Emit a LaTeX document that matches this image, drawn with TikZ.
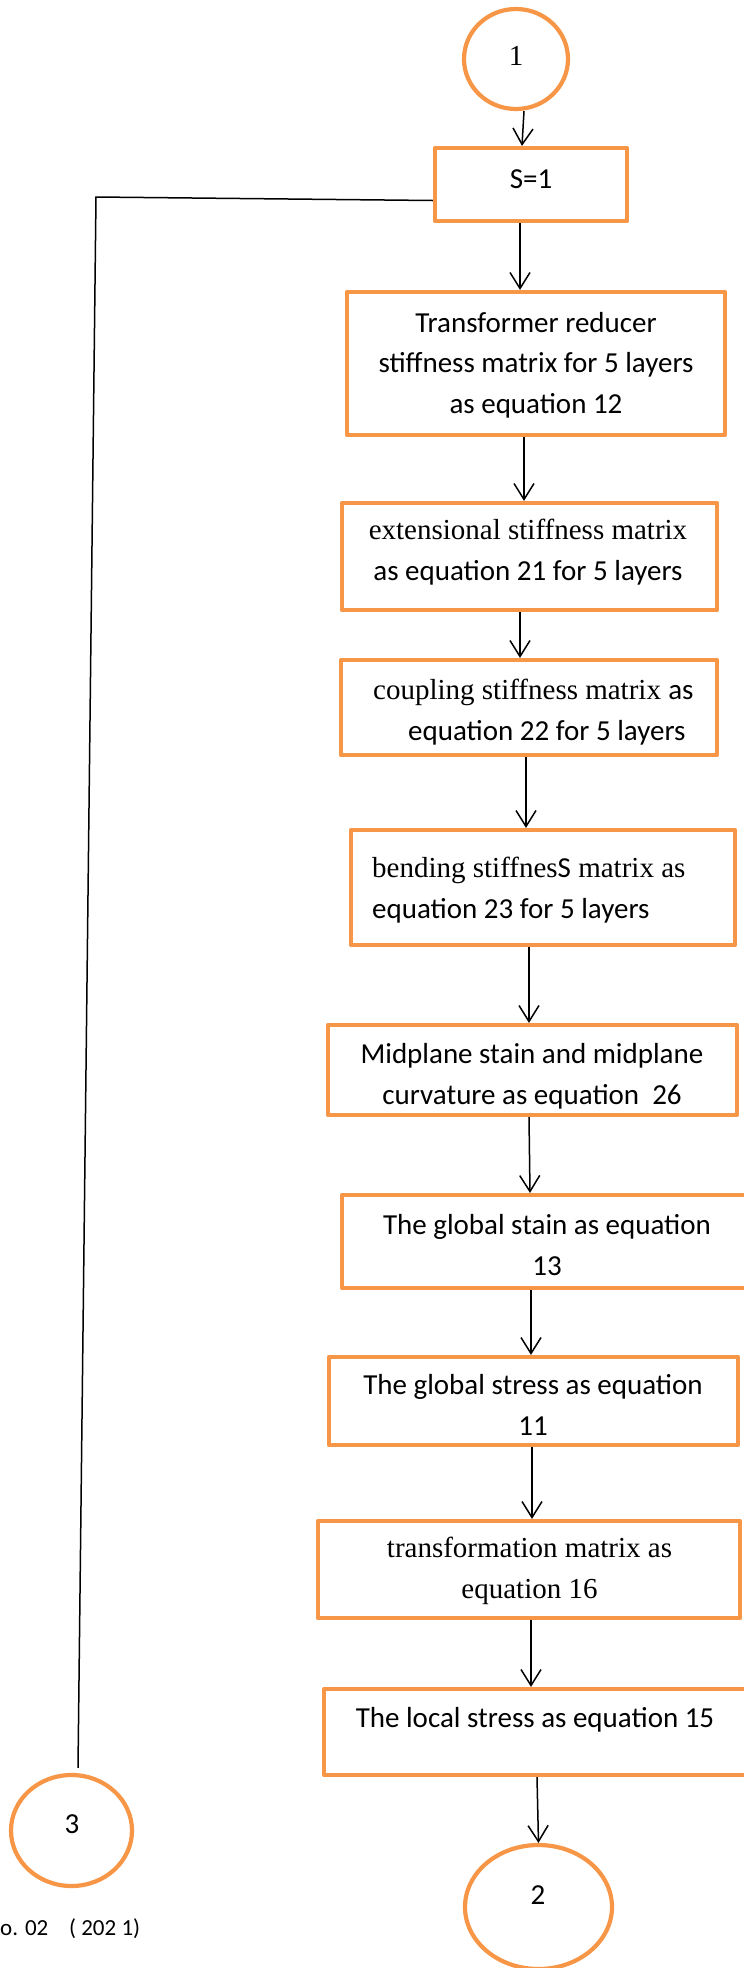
\documentclass[tikz,border=0pt]{standalone}
\usepackage{fontspec}
\setmainfont{Liberation Serif}
\newfontfamily\calfont{Carlito}
\newfontfamily\tnrfont{Liberation Serif}
\usetikzlibrary{arrows.meta,calc,shapes.geometric}
\definecolor{boxorange}{HTML}{F79646}
\begin{document}
\begin{tikzpicture}[x=1pt,y=-1pt,
  box/.style={draw=boxorange, line width=4.2pt, rectangle, inner sep=0pt, line join=round},
  circ/.style={draw=boxorange, line width=4.2pt, ellipse, inner sep=0pt},
  sans/.style={font=\fontsize{29}{40.5}\selectfont\calfont, inner sep=0pt},
  serif/.style={font=\fontsize{29}{40.5}\selectfont\tnrfont, inner sep=0pt},
  mixed/.style={font=\fontsize{29}{40.5}\selectfont, inner sep=0pt},
  arr/.style={line width=1.5pt, -{Straight Barb[length=16pt,width=20pt]}},
  link/.style={line width=1.5pt}]
\useasboundingbox (0,0) rectangle (744,1968);
\clip (0,0) rectangle (744,1968);

\node[circ, minimum width=104, minimum height=100] (c1) at (516,59) {};
\node[serif, anchor=base] (tc1) at (516,65) {1};

\node[box, minimum width=192, minimum height=73] (s1) at (531,184.5) {};
\node[sans, anchor=base] (ts1) at (531,188) {S=1};

\node[box, minimum width=378, minimum height=143] (b2) at (536,363.5) {};
\node[sans, align=center, anchor=base] (t2) at (536,413)
  {Transformer reducer\\stiffness matrix for 5 layers\\as equation 12};

\node[box, minimum width=375, minimum height=107] (b3) at (529.5,556.5) {};
\node[mixed, align=center, anchor=base] (t3) at (528,580)
  {{\tnrfont extensional stiffness matrix}\\{\calfont as equation 21 for 5 layers}};

\node[box, minimum width=376, minimum height=95] (b4) at (529,707.5) {};
\node[mixed, align=left, anchor=base west] (t4) at (373,740)
  {{\tnrfont coupling stiffness matrix }{\calfont as}\\\hspace*{35pt}{\calfont equation 22 for 5 layers}};

\node[box, minimum width=384, minimum height=115] (b5) at (543,887.5) {};
\node[mixed, align=left, anchor=base west] (t5) at (372,918)
  {{\tnrfont bending stiffnes}{\calfont S}{\tnrfont\ matrix as}\\{\calfont equation 23 for 5 layers}};

\node[box, minimum width=409, minimum height=90] (b6) at (532.5,1070) {};
\node[sans, align=center, anchor=base] (t6) at (532,1104)
  {Midplane stain and midplane\\curvature as equation\ \ 26};

\node[box, minimum width=410, minimum height=93] (b7) at (547,1241.5) {};
\node[sans, align=center, anchor=base] (t7) at (547,1275)
  {The global stain as equation\\13};

\node[box, minimum width=409, minimum height=88] (b8) at (533.5,1401) {};
\node[sans, align=center, anchor=base] (t8) at (533,1435)
  {The global stress as equation\\11};

\node[box, minimum width=422, minimum height=97] (b9) at (529,1569.5) {};
\node[serif, align=center, anchor=base] (t9) at (529.5,1598)
  {transformation matrix as\\equation 16};

\node[box, minimum width=428, minimum height=86] (b10) at (538,1732) {};
\node[sans, anchor=base] (t10) at (535,1727) {The local stress as equation 15};

\node[circ, minimum width=147, minimum height=124] (c2) at (538.5,1907) {};
\node[sans, anchor=base] (tc2) at (538,1904) {2};

\node[circ, minimum width=121, minimum height=111] (c3) at (71.5,1830.5) {};
\node[sans, anchor=base] (tc3) at (72,1833) {3};

\node[font=\fontsize{23}{28}\selectfont\calfont, inner sep=0pt, anchor=base west] (foot) at (0,1935)
  {o. 02\ \ \ \ ( 202 1)};

% arrows
\draw[arr] ($(c1.south)+(8,0)$) -- ($(s1.north)+(-9,0)$);
\draw[arr] ($(s1.south)+(-11,0)$) -- ($(b2.north)+(-16,0)$);
\draw[arr] ($(b2.south)+(-12,0)$) -- ($(b3.north)+(-5.5,0)$);
\draw[arr] ($(b3.south)+(-9.5,0)$) -- ($(b4.north)+(-9,0)$);
\draw[arr] ($(b4.south)+(-3,0)$) -- ($(b5.north)+(-17,0)$);
\draw[arr] ($(b5.south)+(-14,0)$) -- ($(b6.north)+(-3.5,0)$);
\draw[arr] ($(b6.south)+(-3.5,0)$) -- ($(b7.north)+(-17,0)$);
\draw[arr] ($(b7.south)+(-16,0)$) -- ($(b8.north)+(-2.5,0)$);
\draw[arr] ($(b8.south)+(-1.5,0)$) -- ($(b9.north)+(3,0)$);
\draw[arr] ($(b9.south)+(2,0)$) -- ($(b10.north)+(-7,0)$);
\draw[arr] ($(b10.south)+(-1,0)$) -- (c2.north);

% loop line
\coordinate (k1) at (96,197);
\draw[link] ($(s1.west)+(0,16)$) -- (k1) -- ($(c3.north)+(6.5,-5)$);
\end{tikzpicture}
\end{document}
